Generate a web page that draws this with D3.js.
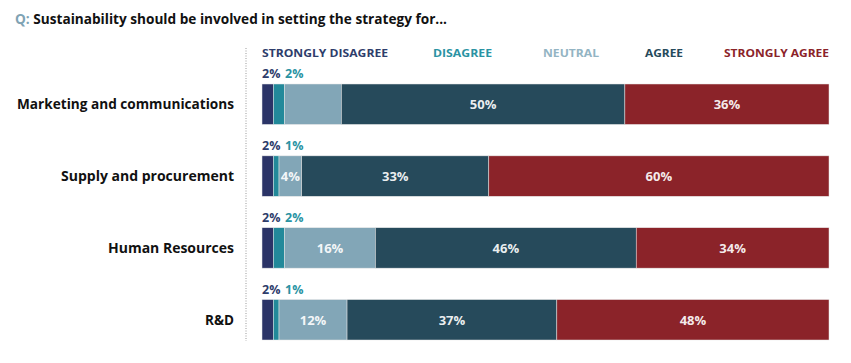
<!DOCTYPE html>
<html><head><meta charset="utf-8">
<script src="https://cdn.jsdelivr.net/npm/d3@7"></script>
<style>body{margin:0;background:#fff;} svg{display:block;font-family:"Open Sans",Lato,sans-serif;}</style>
</head><body>
<svg id="c" width="851" height="363"></svg>
<script>
const categories = ["Marketing and communications","Supply and procurement","Human Resources","R&D"];
const seriesNames = ["STRONGLY DISAGREE","DISAGREE","NEUTRAL","AGREE","STRONGLY AGREE"];
const stronglyDisagree = [2,2,2,2];
const disagree = [2,1,2,1];
const neutral = [10,4,16,12];
const agree = [50,33,46,37];
const stronglyAgree = [36,60,34,48];
const neutralLabelShown = [false,true,true,true];

const colors = ["#2b3467","#22899a","#82a6b7","#264a5b","#8b2329"];
const legendColors = ["#2e3d6b","#2a93a3","#93b4c3","#264a5b","#8b2329"];

const series = [stronglyDisagree,disagree,neutral,agree,stronglyAgree];
const svg = d3.select("#c");

function fitText(sel, w){ // compress/expand to target width
  const n = sel.node(); const cur = n.getComputedTextLength();
  sel.attr("textLength", w).attr("lengthAdjust","spacingAndGlyphs");
}

// title
const t = svg.append("text").attr("x",15).attr("y",24).attr("font-size",14.5).attr("font-weight",700);
t.append("tspan").attr("fill","#7fa3b4").text("Q: ");
t.append("tspan").attr("fill","#111").text("Sustainability should be involved in setting the strategy for...");
fitText(t, 432);

const x = d3.scaleLinear().domain([0,100]).range([262,829]);
const y = d3.scaleBand().domain(categories).range([84,340]).paddingInner(0.4375).paddingOuter(0);

// dotted divider
svg.append("line").attr("x1",246).attr("x2",246).attr("y1",48).attr("y2",341)
  .attr("stroke","#999").attr("stroke-width",1).attr("stroke-dasharray","1,1.5");

// legend
const legX = [262,433,543,645,724];
const legW = [126,59,56,38,105];
seriesNames.forEach((n,i)=>{
  const lt = svg.append("text").attr("x",legX[i]).attr("y",57).attr("font-size",10.5).attr("font-weight",700)
    .attr("fill",legendColors[i]).text(n);
  fitText(lt, legW[i]);
});

// category labels
const catW = [217,173,126,29];
svg.append("g").selectAll("text").data(categories).join("text")
  .attr("x",234).attr("y",d=>y(d)+y.bandwidth()/2+5).attr("text-anchor","end")
  .attr("font-size",13.5).attr("font-weight",700).attr("fill","#111").text(d=>d)
  .each(function(d,i){ fitText(d3.select(this), catW[i]); });

categories.forEach((c,ci)=>{
  let cum = 0;
  series.forEach((s,si)=>{
    const v = s[ci];
    svg.append("rect").attr("x",x(cum)).attr("y",y(c)).attr("width",x(cum+v)-x(cum))
      .attr("height",y.bandwidth()).attr("fill",colors[si]).attr("stroke","#e6e6e6").attr("stroke-width",0.5);
    const mid = x(cum+v/2);
    if(si>=2 && (si!==2 || neutralLabelShown[ci])){
      svg.append("text").attr("x",mid).attr("y",y(c)+y.bandwidth()/2+5).attr("text-anchor","middle")
        .attr("font-size",13).attr("font-weight",700).attr("fill","#fff").attr("fill-opacity",0.92).text(v+"%");
    }
    cum += v;
  });
  // small labels above
  svg.append("text").attr("x",262).attr("y",y(c)-6).attr("font-size",12.5).attr("font-weight",700)
    .attr("fill",legendColors[0]).text(stronglyDisagree[ci]+"%");
  svg.append("text").attr("x",285).attr("y",y(c)-6).attr("font-size",12.5).attr("font-weight",700)
    .attr("fill",legendColors[1]).text(disagree[ci]+"%");
});
</script>
</body></html>
